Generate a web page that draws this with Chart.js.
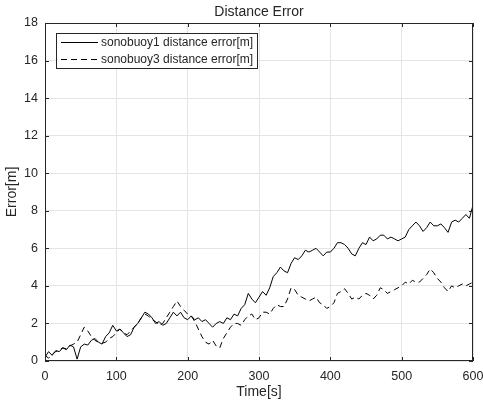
<!DOCTYPE html>
<html>
<head>
<meta charset="utf-8">
<script src="https://cdn.jsdelivr.net/npm/chart.js@4.4.0/dist/chart.umd.min.js"></script>
<style>
  html, body { margin: 0; padding: 0; background: #fff; }
  #wrap { width: 483px; height: 405px; }
</style>
</head>
<body>
<div id="wrap"><canvas id="chart" width="483" height="405"></canvas></div>
<script>
// Time axis (seconds), one sample every 5 s
const times = [];
for (let t = 0; t <= 600; t += 5) times.push(t);

// sonobuoy1 distance error [m]
const sonobuoy1 = [
    0.2, 0.5, 0.3, 0.55, 0.5, 0.7, 0.6, 0.85, 0.75, 0.1,
    0.75, 0.9, 0.85, 1.1, 1.2, 1.0, 0.9, 1.3, 1.5, 1.9,
    1.6, 1.7, 1.5, 1.3, 1.4, 1.8, 2.0, 2.3, 2.6, 2.5,
    2.3, 2.0, 2.1, 1.9, 2.0, 2.3, 2.6, 2.4, 2.6, 2.3,
    2.2, 2.4, 2.2, 2.3, 2.1, 2.2, 2.0, 1.8, 2.0, 2.1,
    2.0, 2.3, 2.2, 2.5, 2.4, 2.8, 3.0, 3.6, 3.3, 3.1,
    3.4, 3.7, 3.5, 3.9, 4.5, 4.7, 5.0, 4.8, 4.7, 5.2,
    5.5, 5.4, 5.6, 5.9, 5.8, 5.9, 6.0, 5.8, 5.6, 5.8,
    5.8, 6.0, 6.3, 6.3, 6.2, 6.0, 5.7, 5.6, 6.0, 6.3,
    6.2, 6.6, 6.4, 6.5, 6.7, 6.7, 6.5, 6.6, 6.5, 6.4,
    6.5, 6.6, 7.0, 7.2, 7.4, 7.2, 6.9, 7.1, 7.4, 7.2,
    7.2, 7.3, 7.1, 6.85, 7.4, 7.5, 7.4, 7.6, 7.8, 7.6,
    8.3,
];

// sonobuoy3 distance error [m]
const sonobuoy3 = [
    0.3, 0.15, 0.35, 0.5, 0.6, 0.7, 0.65, 0.8, 0.9, 1.0,
    1.4, 1.8, 1.6, 1.3, 1.1, 1.0, 0.95, 1.0, 1.2, 1.3,
    1.5, 1.7, 1.5, 1.4, 1.6, 1.8, 2.0, 2.3, 2.5, 2.4,
    2.2, 2.1, 1.9, 2.0, 2.3, 2.6, 2.9, 3.2, 2.9, 2.7,
    2.5, 2.4, 2.1, 1.7, 1.3, 1.0, 0.9, 1.1, 0.8, 0.7,
    1.2, 1.5, 1.8, 2.0, 2.0, 1.9, 2.2, 2.4, 2.5, 2.2,
    2.3, 2.6, 2.6, 2.5, 2.8, 3.0, 2.9, 2.9, 3.3, 3.9,
    3.8, 3.5, 3.4, 3.3, 3.2, 3.3, 3.4, 3.1, 3.0, 2.8,
    2.9, 3.1, 3.6, 3.7, 3.85, 3.6, 3.3, 3.4, 3.3, 3.5,
    3.6, 3.5, 3.3, 3.5, 3.9, 3.8, 3.6, 3.7, 3.8, 3.9,
    4.0, 4.2, 4.1, 4.3, 4.2, 4.2, 4.4, 4.6, 4.9, 4.7,
    4.4, 4.2, 3.9, 3.7, 4.0, 3.9, 4.0, 4.1, 4.0, 4.1,
    4.2,
];

const xTicks = [0, 100, 200, 300, 400, 500, 600];
const yTicks = [0, 2, 4, 6, 8, 10, 12, 14, 16, 18];
const seriesNames = ['sonobuoy1 distance error[m]', 'sonobuoy3 distance error[m]'];

const ink = '#262626';
const fontFamily = '"Liberation Sans", Arial, Helvetica, sans-serif';

// MATLAB-ish box, inward ticks, title and legend
const matlabAxes = {
    id: 'matlabAxes',
    afterDatasetsDraw(chart) {
        const { ctx, chartArea: a, scales } = chart;
        ctx.save();
        ctx.strokeStyle = ink;
        ctx.lineWidth = 1;
        ctx.strokeRect(a.left + 0.5, a.top + 0.5, a.right - a.left - 1, a.bottom - a.top - 1);

        // inward tick marks on all four sides
        ctx.beginPath();
        xTicks.forEach((v) => {
            const x = Math.round(scales.x.getPixelForValue(v)) + 0.5;
            ctx.moveTo(x, a.bottom); ctx.lineTo(x, a.bottom - 4);
            ctx.moveTo(x, a.top); ctx.lineTo(x, a.top + 4);
        });
        yTicks.forEach((v) => {
            const y = Math.round(scales.y.getPixelForValue(v)) + 0.5;
            ctx.moveTo(a.left, y); ctx.lineTo(a.left + 4, y);
            ctx.moveTo(a.right, y); ctx.lineTo(a.right - 4, y);
        });
        ctx.stroke();

        // title
        ctx.fillStyle = ink;
        ctx.font = '14px ' + fontFamily;
        ctx.textAlign = 'center';
        ctx.textBaseline = 'middle';
        ctx.fillText('Distance Error', (a.left + a.right) / 2, 12);

        // legend
        const lx = 56, ly = 33, lw = 201, lh = 35;
        ctx.fillStyle = '#fff';
        ctx.fillRect(lx, ly, lw, lh);
        ctx.strokeStyle = ink;
        ctx.strokeRect(lx + 0.5, ly + 0.5, lw, lh);
        ctx.font = '12px ' + fontFamily;
        ctx.textAlign = 'left';
        const rows = [42.5, 59.5];
        chart.data.datasets.forEach((ds, i) => {
            ctx.beginPath();
            ctx.setLineDash(ds.borderDash || []);
            ctx.strokeStyle = ds.borderColor;
            ctx.lineWidth = 1;
            ctx.moveTo(61, rows[i]);
            ctx.lineTo(98, rows[i]);
            ctx.stroke();
            ctx.setLineDash([]);
            ctx.fillStyle = ink;
            ctx.fillText(ds.label, 101, rows[i]);
        });
        ctx.restore();
    },
};

new Chart(document.getElementById('chart'), {
    type: 'line',
    data: {
        labels: times,
        datasets: [
            {
                label: seriesNames[0],
                data: sonobuoy1,
                borderColor: '#000',
                borderWidth: 1,
                pointRadius: 0,
                tension: 0,
                fill: false,
            },
            {
                label: seriesNames[1],
                data: sonobuoy3,
                borderColor: '#000',
                borderWidth: 1,
                borderDash: [6, 4],
                pointRadius: 0,
                tension: 0,
                fill: false,
            },
        ],
    },
    options: {
        responsive: false,
        animation: false,
        devicePixelRatio: 1,
        layout: { padding: { top: 23, right: 10, left: 0, bottom: 0 } },
        plugins: {
            legend: { display: false },
            title: { display: false },
            tooltip: { enabled: false },
        },
        scales: {
            x: {
                type: 'linear',
                min: 0,
                max: 600,
                afterBuildTicks: (s) => { s.ticks = xTicks.map((v) => ({ value: v })); },
                afterFit: (s) => { s.height = 44; s.paddingRight = 0; s.paddingLeft = 0; },
                grid: { color: '#e4e4e4', drawTicks: false },
                border: { display: false },
                ticks: { color: ink, padding: 8, maxRotation: 0, font: { size: 12.5, family: fontFamily } },
                title: { display: true, text: 'Time[s]', color: ink, padding: { top: 5 }, font: { size: 14, family: fontFamily } },
            },
            y: {
                min: 0,
                max: 18,
                afterBuildTicks: (s) => { s.ticks = yTicks.map((v) => ({ value: v })); },
                afterFit: (s) => { s.width = 45; s.paddingTop = 0; s.paddingBottom = 0; },
                grid: { color: '#e4e4e4', drawTicks: false },
                border: { display: false },
                ticks: { color: ink, padding: 7, font: { size: 12.5, family: fontFamily } },
                title: { display: true, text: 'Error[m]', color: ink, padding: { top: 4 }, font: { size: 14, family: fontFamily } },
            },
        },
    },
    plugins: [matlabAxes],
});
</script>
</body>
</html>
